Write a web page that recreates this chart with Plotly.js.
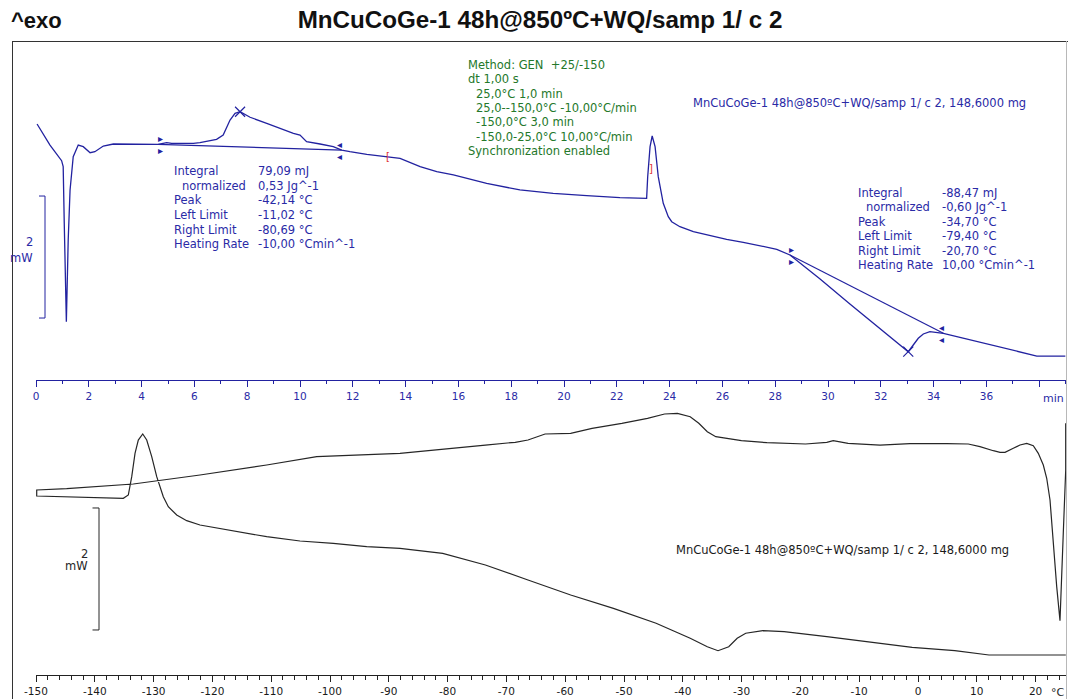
<!DOCTYPE html>
<html><head><meta charset="utf-8">
<script src="https://cdn.plot.ly/plotly-3.0.1.min.js"></script>
<style>html,body{margin:0;padding:0;background:#fff}#chart{width:1068px;height:699px}</style>
</head><body><div id="chart"></div>
<script>
// ---------- DATA ----------
// Upper panel: time (min) vs heat flow (mW, arbitrary offset)
const timeMin = [0.04,0.53,0.97,1.03,1.07,1.13,1.15,1.22,1.29,1.41,1.60,1.79,2.05,2.23,2.55,2.93,3.69,4.63,4.95,5.14,5.96,6.21,6.84,7.09,7.35,7.54,7.73,8.11,8.74,9.37,9.75,10.00,10.25,10.76,11.26,11.58,11.89,12.53,13.16,13.79,14.55,15.18,15.81,17.07,18.33,19.59,20.86,22.12,23.13,23.17,23.26,23.34,23.45,23.57,23.76,23.95,24.08,24.39,24.90,25.53,26.16,26.79,27.42,28.06,28.56,29.70,30.83,31.97,32.73,33.04,33.23,33.42,33.61,33.86,34.37,35.00,35.63,36.26,36.89,37.53,37.91,38.99];
const heatFlowTime = [4.197,3.852,3.595,3.497,2.574,0.984,0.956,2.295,3.115,3.661,3.852,3.825,3.726,3.743,3.836,3.869,3.864,3.864,3.890,3.880,3.880,3.890,3.946,4.016,4.262,4.372,4.398,4.307,4.208,4.098,4.044,4.016,3.907,3.869,3.825,3.770,3.743,3.700,3.661,3.634,3.497,3.415,3.361,3.225,3.115,3.061,3.021,2.989,2.979,3.333,3.825,4.000,3.825,3.333,2.897,2.677,2.595,2.513,2.431,2.366,2.307,2.257,2.202,2.143,2.049,1.656,1.246,0.836,0.574,0.464,0.574,0.684,0.754,0.792,0.766,0.700,0.628,0.562,0.492,0.426,0.393,0.393];

// Lower panel: sample temperature (°C) vs heat flow (mW), in measurement order
const tempC = [25.12,25.12,24.71,24.44,24.15,23.59,23.01,22.45,21.89,21.31,20.46,19.61,18.49,17.35,16.21,14.80,13.95,12.81,10.54,8.55,4.88,2.04,-1.36,-6.46,-11.89,-14.42,-15.51,-19.13,-25.68,-30.03,-34.39,-35.83,-37.28,-38.74,-40.92,-43.10,-46.00,-50.36,-55.43,-59.07,-63.42,-66.33,-68.50,-73.57,-80.83,-88.10,-102.26,-110.77,-122.11,-133.45,-144.78,-149.88,
  -149.88,-141.95,-135.15,-134.30,-133.72,-133.16,-132.60,-131.85,-131.17,-130.32,-129.47,-128.35,-127.50,-126.07,-124.37,-122.11,-116.44,-110.77,-105.10,-99.44,-93.76,-88.10,-80.83,-73.57,-66.33,-59.07,-51.80,-44.54,-38.74,-35.83,-34.01,-32.19,-30.75,-29.30,-26.39,-22.77,-15.51,-8.25,-0.99,6.26,12.07,25.14];
const heatFlowTemp = [4.126,3.361,2.328,1.448,0.890,1.448,2.213,2.869,3.225,3.443,3.634,3.759,3.798,3.770,3.716,3.651,3.651,3.677,3.743,3.787,3.792,3.787,3.792,3.770,3.798,3.841,3.815,3.787,3.808,3.841,3.907,3.989,4.126,4.234,4.290,4.279,4.208,4.126,4.044,3.962,3.951,3.852,3.815,3.770,3.700,3.634,3.579,3.443,3.279,3.131,3.054,3.033,
  2.934,2.913,2.897,2.951,3.251,3.634,3.852,3.951,3.852,3.579,3.251,2.923,2.759,2.623,2.530,2.459,2.361,2.267,2.197,2.159,2.103,2.077,1.995,1.803,1.557,1.311,1.093,0.848,0.602,0.464,0.398,0.464,0.602,0.684,0.726,0.710,0.628,0.546,0.454,0.398,0.328,0.328];

// Peak evaluations (times in min)
const leftLimitMin  = [4.63, 28.56];
const rightLimitMin = [11.58, 34.37];
const peakMin       = [7.73, 33.04];
const segMarkMin  = [13.33, 23.30];
const segMarkMW   = [3.656, 3.475];
const segMarkText = ['[', ']'];

// Ticks
const timeTicks    = [0,2,4,6,8,10,12,14,16,18,20,22,24,26,28,30,32,34,36,38];
const timeTickText = ['0','2','4','6','8','10','12','14','16','18','20','22','24','26','28','30','32','34','36',''];
const tempTicks    = [-150,-140,-130,-120,-110,-100,-90,-80,-70,-60,-50,-40,-30,-20,-10,0,10,20];
const tempTickText = ['-150','-140','-130','-120','-110','-100','-90','-80','-70','-60','-50','-40','-30','-20','-10','0','10','20'];

// Texts
const titleText   = 'MnCuCoGe-1 48h@850ºC+WQ/samp 1/ c 2';
const sampleLabel = 'MnCuCoGe-1 48h@850ºC+WQ/samp 1/ c 2, 148,6000 mg';
const evalLabels  = ['Integral','normalized','Peak','Left Limit','Right Limit','Heating Rate'];
const evalValues1 = ['79,09 mJ','0,53 Jg^-1','-42,14 °C','-11,02 °C','-80,69 °C','-10,00 °Cmin^-1'];
const evalValues2 = ['-88,47 mJ','-0,60 Jg^-1','-34,70 °C','-79,40 °C','-20,70 °C','10,00 °Cmin^-1'];
const methodLines = ['Method: GEN\u00a0\u00a0+25/-150','dt 1,00 s','25,0°C 1,0 min','25,0--150,0°C -10,00°C/min','-150,0°C 3,0 min','-150,0-25,0°C 10,00°C/min','Synchronization enabled'];
const methodIndent = [0,0,1,1,1,1,0];
const scaleBarMW = 2;

// ---------- LAYOUT HELPERS ----------
const W = 1068, H = 699, ML = 36, MR = 2, MT = 41, MB = 0;
const PW = W - ML - MR, PH = H - MT - MB;
const px = p => (p - ML) / PW;
const py = p => (H - MB - p) / PH;
const FONT = 'DejaVu Sans';
const BLUE = '#2222a0', BLUE_T = '#2a2aa6', GREEN = '#24782a', DARK = '#262626';

function interp(xs, ys, x) {
  for (let i = 1; i < xs.length; i++) {
    if ((xs[i-1] <= x && x <= xs[i]) || (xs[i-1] >= x && x >= xs[i])) {
      const f = xs[i] === xs[i-1] ? 0 : (x - xs[i-1]) / (xs[i] - xs[i-1]);
      return ys[i-1] + f * (ys[i] - ys[i-1]);
    }
  }
  return ys[ys.length-1];
}

function txt(x, y, text, color, size, anchor, family) {
  return {xref:'paper', yref:'paper', x:px(x), y:py(y), text:text, showarrow:false,
    xanchor:anchor || 'left', yanchor:'middle', borderpad:0,
    font:{family:family || FONT, size:size, color:color}};
}

// ---------- TRACES ----------
const traces = [];
traces.push({x:timeMin, y:heatFlowTime, xaxis:'x', yaxis:'y', mode:'lines',
  line:{color:BLUE, width:1.3}, hoverinfo:'skip'});
for (let k = 0; k < leftLimitMin.length; k++) {
  traces.push({x:[leftLimitMin[k], rightLimitMin[k]],
    y:[interp(timeMin, heatFlowTime, leftLimitMin[k]), interp(timeMin, heatFlowTime, rightLimitMin[k])],
    xaxis:'x', yaxis:'y', mode:'lines', line:{color:BLUE, width:1.2}, hoverinfo:'skip'});
}
traces.push({x:peakMin, y:peakMin.map(t => interp(timeMin, heatFlowTime, t)), xaxis:'x', yaxis:'y',
  mode:'markers', marker:{symbol:'x-thin-open', size:10, line:{color:BLUE, width:1.2}, color:BLUE}, hoverinfo:'skip'});
traces.push({x:tempC, y:heatFlowTemp, xaxis:'x2', yaxis:'y2', mode:'lines',
  line:{color:DARK, width:1.2}, hoverinfo:'skip'});

// ---------- ANNOTATIONS ----------
const ann = [];
ann.push(txt(10, 20, '<b>^exo</b>', '#111', 22, 'left', 'Liberation Sans'));
evalLabels.forEach((s, i) => {
  ann.push(txt(i === 1 ? 181 : 172.5, 171 + i*14.65, s, BLUE_T, 11.5));
  ann.push(txt(256.5, 171 + i*14.65, evalValues1[i], BLUE_T, 11.5));
  ann.push(txt(i === 1 ? 865 : 856.5, 193 + i*14.4, s, BLUE_T, 11.5));
  ann.push(txt(941, 193 + i*14.4, evalValues2[i], BLUE_T, 11.5));
});
methodLines.forEach((s, i) => {
  ann.push(txt(methodIndent[i] ? 475 : 466.5, 65 + i*14.3, s, GREEN, 11.5));
});
ann.push(txt(691.5, 103, sampleLabel, BLUE_T, 11.5));
ann.push(txt(675, 550, sampleLabel, '#1a1a1a', 11.5));
leftLimitMin.forEach(t => {
  const v = interp(timeMin, heatFlowTime, t);
  [6, -6].forEach(s => ann.push({xref:'x', yref:'y', x:t, y:v, yshift:s, xshift:2, text:'▸', showarrow:false,
    font:{family:FONT, size:10, color:BLUE}}));
});
rightLimitMin.forEach(t => {
  const v = interp(timeMin, heatFlowTime, t);
  [6, -6].forEach(s => ann.push({xref:'x', yref:'y', x:t, y:v, yshift:s, xshift:-2, text:'◂', showarrow:false,
    font:{family:FONT, size:10, color:BLUE}}));
});
segMarkMin.forEach((t, i) => ann.push({xref:'x', yref:'y', x:t, y:segMarkMW[i], text:segMarkText[i], showarrow:false,
  font:{family:FONT, size:10, color:'#e03030'}}));
ann.push(txt(34, 242, String(scaleBarMW), BLUE_T, 11.5, 'right'));
ann.push(txt(34, 258, 'mW', BLUE_T, 11.5, 'right'));
ann.push(txt(89, 554, String(scaleBarMW), DARK, 11.5, 'right'));
ann.push(txt(89, 566, 'mW', DARK, 11.5, 'right'));
ann.push(txt(1053, 398, 'min', BLUE_T, 11, 'center'));
ann.push(txt(1058, 692, '°C', DARK, 11, 'center'));

// ---------- SHAPES ----------
const shapes = [];
shapes.push({type:'line', xref:'paper', yref:'paper', x0:px(12.5), x1:px(12.5), y0:py(41), y1:py(699), line:{color:'#333', width:1}});
shapes.push({type:'line', xref:'paper', yref:'paper', x0:px(12), x1:px(1068), y0:py(41.5), y1:py(41.5), line:{color:'#333', width:1}});
shapes.push({type:'line', xref:'paper', yref:'paper', x0:px(1066.5), x1:px(1066.5), y0:py(41), y1:py(699), line:{color:'#b8b8b8', width:1}});
function bar(yref, xl, xr, base, color) {
  return {type:'path', xref:'paper', yref:yref, line:{color:color, width:1},
    path:`M ${px(xl)},${base} L ${px(xr)},${base} L ${px(xr)},${base+scaleBarMW} L ${px(xl)},${base+scaleBarMW}`};
}
shapes.push(bar('y', 39, 45, 1.016, BLUE));
shapes.push(bar('y2', 92.5, 99, 0.738, DARK));

// ---------- LAYOUT ----------
const layout = {
  width:W, height:H, margin:{l:ML, r:MR, t:MT, b:MB, pad:0},
  paper_bgcolor:'#fff', plot_bgcolor:'rgba(0,0,0,0)', showlegend:false,
  title:{text:'<b>' + titleText + '</b>', x:540/W, xref:'container', xanchor:'center', y:1-20/H, yanchor:'middle',
    font:{family:'Liberation Sans', size:24.2, color:'#111'}},
  xaxis:{domain:[0,1], range:[0, PW/26.4], anchor:'y', showgrid:false, zeroline:false,
    showline:true, linecolor:BLUE, linewidth:1, ticks:'outside', ticklen:6, tickcolor:BLUE, tickwidth:1,
    tickmode:'array', tickvals:timeTicks, ticktext:timeTickText,
    minor:{tickmode:'linear', tick0:0, dtick:1, ticklen:3, tickcolor:BLUE, ticks:'outside'},
    tickfont:{family:FONT, size:10.5, color:BLUE_T}, fixedrange:true},
  yaxis:{domain:[py(380), 1], range:[0, (380-MT)/61], visible:false, fixedrange:true},
  xaxis2:{domain:[0,1], range:[-150, -150 + PW/5.88], anchor:'y2', showgrid:false, zeroline:false,
    showline:true, linecolor:'#222', linewidth:1, ticks:'outside', ticklen:6, tickcolor:'#222', tickwidth:1,
    tickmode:'array', tickvals:tempTicks, ticktext:tempTickText,
    minor:{tickmode:'linear', tick0:-150, dtick:2, ticklen:4, tickcolor:'#222', ticks:'outside'},
    tickfont:{family:FONT, size:10.5, color:'#1a1a1a'}, fixedrange:true},
  yaxis2:{domain:[py(675), py(380)], range:[0, (675-380)/61], visible:false, fixedrange:true},
  annotations:ann, shapes:shapes
};
Plotly.newPlot('chart', traces, layout, {staticPlot:true, displayModeBar:false});
</script></body></html>
